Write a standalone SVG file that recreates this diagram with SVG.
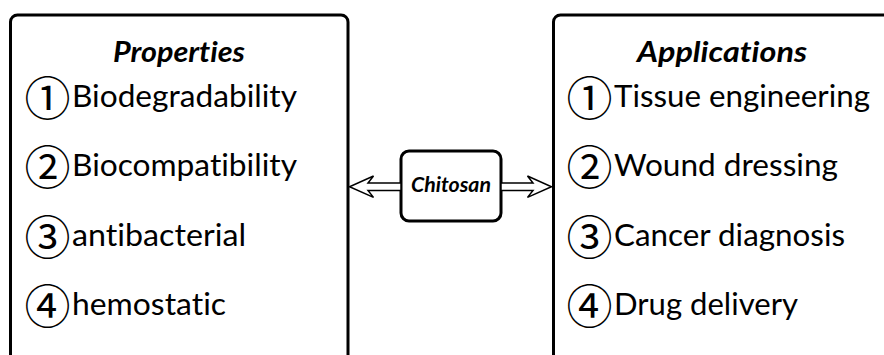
<svg xmlns="http://www.w3.org/2000/svg" width="884" height="355" viewBox="0 0 884 355">
  <style>
    text { font-variant-ligatures: none; font-feature-settings: "liga" 0, "dlig" 0; }
    .panel { fill: #ffffff; stroke: #000000; stroke-width: 3; }
    .title { font-family: Lato, "Open Sans", "Liberation Sans", sans-serif; font-weight: bold; font-style: italic; font-size: 28px; fill: #000000; }
    .item { font-family: Lato, "Open Sans", "Liberation Sans", sans-serif; font-size: 31px; fill: #000000; }
    .num { font-family: "Noto Sans CJK SC", "DejaVu Sans", sans-serif; font-size: 46px; }
    .hub { font-family: Lato, "Open Sans", "Liberation Sans", sans-serif; font-weight: bold; font-style: italic; font-size: 21px; fill: #000000; }
    .arrow { fill: #ffffff; stroke: #000000; stroke-width: 1.5; stroke-linejoin: miter; }
  </style>
  <rect width="884" height="355" fill="#ffffff"/>

  <g id="properties">
    <rect class="panel" x="10.5" y="15" width="337.5" height="360" rx="7"/>
    <text class="title" x="113" y="62" textLength="132" lengthAdjust="spacingAndGlyphs">Properties</text>
    <text class="item"><tspan class="num" x="24.5" y="115">①</tspan><tspan x="72" y="107" textLength="225" lengthAdjust="spacingAndGlyphs">Biodegradability</tspan></text>
    <text class="item"><tspan class="num" x="24.5" y="184">②</tspan><tspan x="72" y="176" textLength="225" lengthAdjust="spacingAndGlyphs">Biocompatibility</tspan></text>
    <text class="item"><tspan class="num" x="24.5" y="254">③</tspan><tspan x="72" y="246" textLength="174" lengthAdjust="spacingAndGlyphs">antibacterial</tspan></text>
    <text class="item"><tspan class="num" x="24.5" y="323">④</tspan><tspan x="72" y="315" textLength="154" lengthAdjust="spacingAndGlyphs">hemostatic</tspan></text>
  </g>

  <g id="applications">
    <rect class="panel" x="553.5" y="15" width="345" height="360" rx="7"/>
    <text class="title" x="637" y="62" textLength="170" lengthAdjust="spacingAndGlyphs">Applications</text>
    <text class="item"><tspan class="num" x="566.5" y="115">①</tspan><tspan x="614" y="107" textLength="256" lengthAdjust="spacingAndGlyphs">Tissue engineering</tspan></text>
    <text class="item"><tspan class="num" x="566.5" y="184">②</tspan><tspan x="614" y="176" textLength="224" lengthAdjust="spacingAndGlyphs">Wound dressing</tspan></text>
    <text class="item"><tspan class="num" x="566.5" y="254">③</tspan><tspan x="614" y="246" textLength="231" lengthAdjust="spacingAndGlyphs">Cancer diagnosis</tspan></text>
    <text class="item"><tspan class="num" x="566.5" y="323">④</tspan><tspan x="614" y="315" textLength="184" lengthAdjust="spacingAndGlyphs">Drug delivery</tspan></text>
  </g>

  <g id="chitosan">
    <rect class="panel" x="401" y="151" width="100" height="70" rx="8"/>
    <text class="hub" x="451" y="192" text-anchor="middle" textLength="80" lengthAdjust="spacingAndGlyphs">Chitosan</text>
  </g>

  <g id="connectors">
    <!-- hollow double-line arrows from the hub out to each panel -->
    <polygon class="arrow" points="401,183 368,183 373.5,176 349.5,186.7 373.5,197.4 368,190.4 401,190.4"/>
    <polygon class="arrow" points="501,183 533,183 527.5,176 551.5,186.7 527.5,197.4 533,190.4 501,190.4"/>
  </g>
</svg>
